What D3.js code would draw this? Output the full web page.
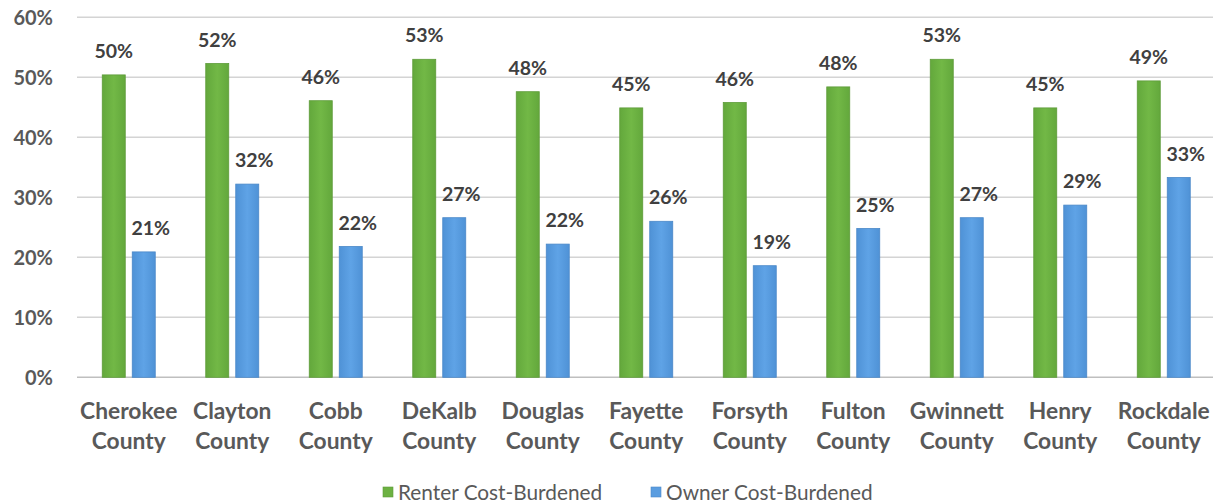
<!DOCTYPE html>
<html>
<head>
<meta charset="utf-8">
<script src="https://cdn.jsdelivr.net/npm/d3@7"></script>
<style>
  html, body { margin: 0; padding: 0; background: #fff; }
  svg { display: block; }
  text { font-family: Lato, "Open Sans", sans-serif; }
</style>
</head>
<body>
<svg id="chart" width="1213" height="504"></svg>
<script>
// Share of households that are cost-burdened, by county (percent)
const counties = ["Cherokee County", "Clayton County", "Cobb County", "DeKalb County",
  "Douglas County", "Fayette County", "Forsyth County", "Fulton County",
  "Gwinnett County", "Henry County", "Rockdale County"];
const renter = [50.4, 52.3, 46.1, 53.0, 47.6, 44.9, 45.8, 48.4, 53.0, 44.9, 49.4];
const owner  = [20.9, 32.2, 21.8, 26.6, 22.2, 26.0, 18.6, 24.8, 26.6, 28.7, 33.3];
const seriesNames = ["Renter Cost-Burdened", "Owner Cost-Burdened"];
const yTicks = [0, 10, 20, 30, 40, 50, 60];

const svg = d3.select("#chart");
const W = 1213;
const plot = { left: 77, right: 1215.5, top: 17.3, bottom: 377.3 };

const x0 = d3.scaleBand().domain(counties).range([plot.left, plot.right]).paddingInner(0).paddingOuter(0);
const x1 = d3.scaleBand().domain(seriesNames).range([0, x0.bandwidth()])
  .paddingInner(7 / 30).paddingOuter(0.8417);
const y = d3.scaleLinear().domain([0, 60]).range([plot.bottom, plot.top]);

// bar shading
const defs = svg.append("defs");
function grad(id, edge, mid) {
  const g = defs.append("linearGradient").attr("id", id).attr("x1", "0").attr("x2", "1").attr("y1", "0").attr("y2", "0");
  g.append("stop").attr("offset", "0%").attr("stop-color", edge);
  g.append("stop").attr("offset", "50%").attr("stop-color", mid);
  g.append("stop").attr("offset", "100%").attr("stop-color", edge);
}
grad("gGreen", "#63a83c", "#72b846");
grad("gBlue", "#4f92d6", "#5fa3e6");
const fills = { "Renter Cost-Burdened": "url(#gGreen)", "Owner Cost-Burdened": "url(#gBlue)" };
const strokes = { "Renter Cost-Burdened": "#5e9c3a", "Owner Cost-Burdened": "#4a88c8" };
const swatch = { "Renter Cost-Burdened": "#6cb142", "Owner Cost-Burdened": "#5a9de0" };

// gridlines
svg.append("g").selectAll("line").data(yTicks).join("line")
  .attr("x1", plot.left).attr("x2", W)
  .attr("y1", d => y(d)).attr("y2", d => y(d))
  .attr("stroke", d => d === 0 ? "#bfbfbf" : "#d4d4d4")
  .attr("stroke-width", 1.6);

// y tick labels
svg.append("g").selectAll("text").data(yTicks).join("text")
  .attr("x", 53).attr("y", d => y(d)).attr("dy", "0.36em")
  .attr("text-anchor", "end")
  .attr("font-size", 20).attr("font-weight", "bold").attr("fill", "#595959")
  .text(d => d + "%");

// bars and value labels
const rows = counties.map((c, i) => ({ county: c, values: [
  { series: seriesNames[0], v: renter[i] },
  { series: seriesNames[1], v: owner[i] } ] }));

const groups = svg.append("g").selectAll("g").data(rows).join("g")
  .attr("transform", d => `translate(${x0(d.county)},0)`);

groups.selectAll("rect").data(d => d.values).join("rect")
  .attr("x", d => x1(d.series))
  .attr("y", d => y(d.v))
  .attr("width", x1.bandwidth())
  .attr("height", d => y(0) - y(d.v))
  .attr("fill", d => fills[d.series])
  .attr("stroke", d => strokes[d.series])
  .attr("stroke-width", 0.8);

groups.selectAll("text").data(d => d.values).join("text")
  .attr("x", d => x1(d.series) + x1.bandwidth() / 2 + (d.series === seriesNames[1] ? 7 : 0))
  .attr("y", d => y(d.v) - 17)
  .attr("text-anchor", "middle")
  .attr("font-size", 19.5).attr("font-weight", "bold").attr("fill", "#404040")
  .text(d => Math.round(d.v) + "%");

// category labels (two lines)
const cat = svg.append("g").selectAll("text").data(counties).join("text")
  .attr("text-anchor", "middle")
  .attr("font-size", 22.8).attr("font-weight", "bold").attr("fill", "#595959");
cat.each(function (d) {
  const parts = d.split(" ");
  const t = d3.select(this);
  const cx = x0(d) + x0.bandwidth() / 2;
  t.append("tspan").attr("x", cx).attr("y", 419.3).text(parts[0]);
  t.append("tspan").attr("x", cx).attr("y", 449.3).text(parts.slice(1).join(" "));
});

// legend
const legendPos = [383, 651];
const leg = svg.append("g").selectAll("g").data(seriesNames).join("g")
  .attr("transform", (d, i) => `translate(${legendPos[i]},487)`);
leg.append("rect").attr("width", 10).attr("height", 10).attr("fill", d => swatch[d])
  .attr("stroke", d => strokes[d]).attr("stroke-width", 0.6);
leg.append("text").attr("x", 15).attr("y", 5).attr("dy", "0.36em")
  .attr("font-size", 20.8).attr("fill", "#595959").text(d => d);
</script>
</body>
</html>
